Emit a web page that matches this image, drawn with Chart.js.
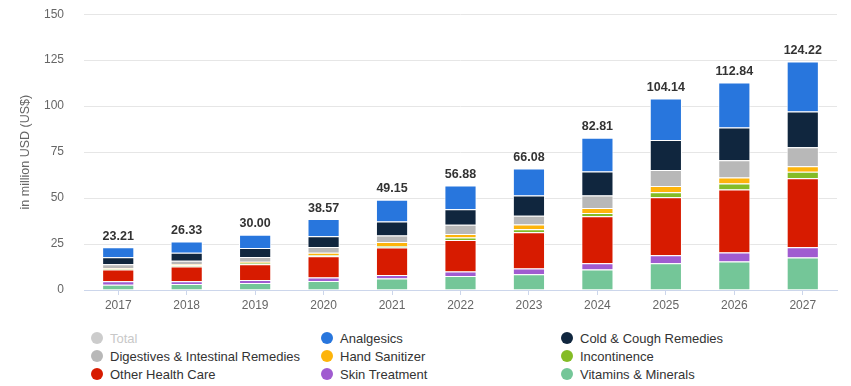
<!DOCTYPE html>
<html>
<head>
<meta charset="utf-8">
<script src="https://cdn.jsdelivr.net/npm/chart.js@4"></script>
<style>
  body { margin: 0; background: #fff; font-family: "Liberation Sans", Arial, sans-serif; overflow: hidden; }
  #wrap { position: absolute; left: 0; top: -13px; width: 851px; height: 333px; }
  #legend {
    position: absolute; left: 91px; top: 329px;
    display: grid; grid-template-columns: 230px 240px 260px; grid-auto-rows: 18px;
    font-size: 13px; color: #333;
  }
  .item { display: flex; align-items: center; white-space: nowrap; }
  .dot { width: 12px; height: 12px; border-radius: 50%; margin-right: 7px; }
</style>
</head>
<body>
<div id="wrap"><canvas id="marketChart"></canvas></div>
<div id="legend"></div>

<script>
const years = ["2017", "2018", "2019", "2020", "2021", "2022", "2023", "2024", "2025", "2026", "2027"];
const totals = [23.21, 26.33, 30.0, 38.57, 49.15, 56.88, 66.08, 82.81, 104.14, 112.84, 124.22];

// segments, in legend order (the stack is drawn in reverse)
const analgesics = [5.41, 6.13, 7.2, 9.37, 11.85, 12.98, 14.68, 18.41, 22.54, 24.44, 27.12];
const coldCough = [3.8, 4.3, 4.9, 5.8, 7.6, 8.4, 11.0, 13.0, 16.3, 17.9, 19.5];
const digestives = [2.0, 1.9, 2.6, 3.2, 3.6, 5.0, 4.8, 6.8, 8.8, 9.3, 10.3];
const handSanitizer = [0.3, 0.6, 0.5, 1.3, 2.2, 2.0, 2.6, 2.7, 3.3, 3.3, 3.0];
const incontinence = [0.6, 0.6, 0.8, 0.6, 0.8, 1.3, 1.6, 1.8, 2.7, 3.2, 3.5];
const otherHealthCare = [6.4, 8.0, 8.6, 11.5, 15.0, 17.2, 19.7, 25.6, 31.6, 34.3, 37.5];
const skinTreatment = [1.9, 1.5, 1.6, 1.9, 1.8, 2.4, 3.2, 3.3, 4.4, 4.9, 5.6];
const vitamins = [2.8, 3.3, 3.8, 4.9, 6.3, 7.6, 8.5, 11.2, 14.5, 15.5, 17.7];

const yTicks = [0, 25, 50, 75, 100, 125, 150];

const series = [
  { label: "Analgesics", data: analgesics, color: "#2876dd" },
  { label: "Cold & Cough Remedies", data: coldCough, color: "#10263e" },
  { label: "Digestives & Intestinal Remedies", data: digestives, color: "#b8b8b8" },
  { label: "Hand Sanitizer", data: handSanitizer, color: "#fdb40b" },
  { label: "Incontinence", data: incontinence, color: "#84bc26" },
  { label: "Other Health Care", data: otherHealthCare, color: "#d71b00" },
  { label: "Skin Treatment", data: skinTreatment, color: "#a05bd0" },
  { label: "Vitamins & Minerals", data: vitamins, color: "#74c698" },
];

const font = '"Liberation Sans", Arial, sans-serif';

const totalLabels = {
  id: "totalLabels",
  afterDatasetsDraw(chart) {
    const { ctx, scales: { x, y } } = chart;
    ctx.save();
    ctx.font = "bold 12.5px " + font;
    ctx.fillStyle = "#333";
    ctx.textAlign = "center";
    ctx.textBaseline = "middle";
    totals.forEach((t, i) => {
      ctx.fillText(t.toFixed(2), x.getPixelForValue(i), y.getPixelForValue(t) - 11);
    });
    ctx.restore();
  },
};

new Chart(document.getElementById("marketChart"), {
  type: "bar",
  data: {
    labels: years,
    datasets: series.slice().reverse().map((s) => ({
      label: s.label,
      data: s.data,
      backgroundColor: s.color,
      borderColor: "#fff",
      borderWidth: 1,
      barPercentage: 0.47,
      categoryPercentage: 1,
    })),
  },
  options: {
    responsive: true,
    maintainAspectRatio: false,
    animation: false,
    layout: { padding: { top: 0, right: 14, left: 0, bottom: 0 } },
    scales: {
      x: {
        stacked: true,
        afterFit: (s) => { s.height = 30; },
        grid: { drawOnChartArea: false, offset: false, tickLength: 5, color: "#ccd6eb" },
        border: { color: "#ccd6eb" },
        ticks: { color: "#666", font: { family: font, size: 12 }, padding: 3 },
      },
      y: {
        stacked: true,
        min: 0,
        max: 150,
        afterFit: (s) => { s.width = 84; },
        afterBuildTicks: (s) => { s.ticks = yTicks.map((v) => ({ value: v })); },
        grid: { color: "#e6e6e6", drawTicks: false },
        border: { display: false },
        ticks: { color: "#666", font: { family: font, size: 12 }, padding: 20 },
        title: {
          display: true,
          text: "in million USD (US$)",
          color: "#666",
          font: { family: font, size: 12.5 },
          padding: { top: 18 },
        },
      },
    },
    plugins: {
      legend: { display: false },
      tooltip: { enabled: false },
    },
  },
  plugins: [totalLabels],
});

// legend: Total (hidden series) then the segments
const legend = document.getElementById("legend");
[{ label: "Total", color: "#cccccc", off: true }].concat(series).forEach((s) => {
  const item = document.createElement("div");
  item.className = "item";
  item.innerHTML = '<span class="dot" style="background:' + s.color + '"></span><span>' + s.label.replace("&", "&amp;") + "</span>";
  if (s.off) item.style.color = "#c8c8c8";
  legend.appendChild(item);
});
</script>
</body>
</html>
